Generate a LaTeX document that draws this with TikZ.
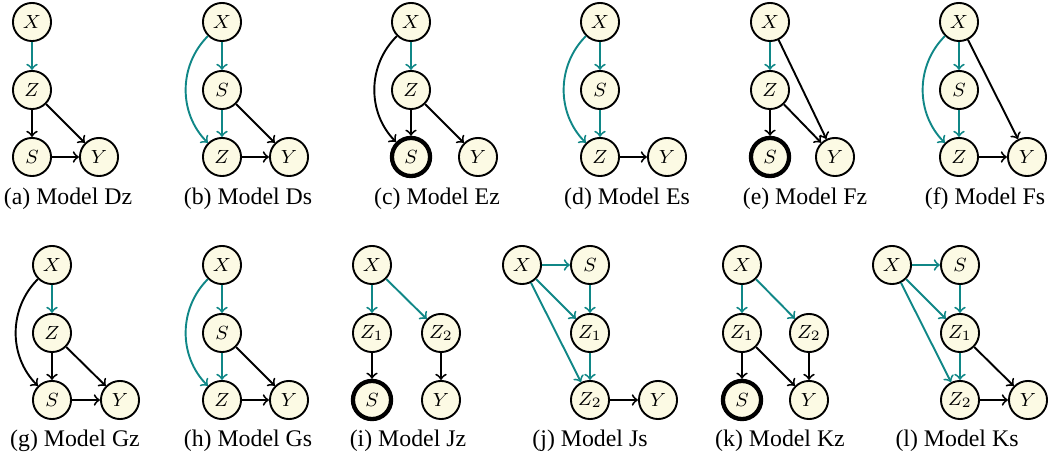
\documentclass[tikz,border=0pt]{standalone}
\usepackage[no-math]{fontspec}
\setmainfont{Liberation Serif}
\usepackage{amsmath}
\definecolor{cream}{RGB}{252,250,228}
\definecolor{tealc}{RGB}{16,135,135}

\begin{document}
\begin{tikzpicture}[x=0.42pt,y=-0.42pt,->,thick]
      \tikzstyle{var}=[shape=circle,draw=black,fill=cream,minimum size=16pt,inner sep=0pt,font=\fontsize{8.5}{9}\selectfont];
      \tikzstyle{sel}=[var,line width=1.8pt];
      \tikzstyle{cau}=[draw=tealc];
      \tikzstyle{captext}=[anchor=base,font=\fontsize{10}{12}\selectfont];

      \useasboundingbox (0,0) rectangle (1049,462);

      % (a)
      \node[var](aX) at (32,22) {$X$};
      \node[var](aZ) at (32,90) {$Z$};
      \node[var](aS) at (32,157) {$S$};
      \node[var](aY) at (99,157) {$Y$};
      \node[captext](aC) at (68,205) {(a) Model Dz};
      \path (aX) edge[cau] (aZ);
      \path (aZ) edge (aS);
      \path (aZ) edge (aY);
      \path (aS) edge (aY);

      % (b)
      \node[var](bX) at (222,22) {$X$};
      \node[var](bS) at (222,90) {$S$};
      \node[var](bZ) at (222,157) {$Z$};
      \node[var](bY) at (289,157) {$Y$};
      \node[captext](bC) at (248,205) {(b) Model Ds};
      \path (bX) edge[cau] (bS);
      \path (bS) edge[cau] (bZ);
      \path (bX) edge[cau,bend right=45] (bZ);
      \path (bS) edge (bY);
      \path (bZ) edge (bY);

      % (c)
      \node[var](cX) at (411,22) {$X$};
      \node[var](cZ) at (411,90) {$Z$};
      \node[sel](cS) at (411,157) {$S$};
      \node[var](cY) at (478,157) {$Y$};
      \node[captext](cC) at (437,205) {(c) Model Ez};
      \path (cX) edge[cau] (cZ);
      \path (cX) edge[bend right=45] (cS);
      \path (cZ) edge (cS);
      \path (cZ) edge (cY);

      % (d)
      \node[var](dX) at (600,22) {$X$};
      \node[var](dS) at (600,90) {$S$};
      \node[var](dZ) at (600,157) {$Z$};
      \node[var](dY) at (667,157) {$Y$};
      \node[captext](dC) at (627,205) {(d) Model Es};
      \path (dX) edge[cau] (dS);
      \path (dS) edge[cau] (dZ);
      \path (dX) edge[cau,bend right=45] (dZ);
      \path (dZ) edge (dY);

      % (e)
      \node[var](eX) at (770,22) {$X$};
      \node[var](eZ) at (770,90) {$Z$};
      \node[sel](eS) at (770,157) {$S$};
      \node[var](eY) at (835,157) {$Y$};
      \node[captext](eC) at (805,205) {(e) Model Fz};
      \path (eX) edge[cau] (eZ);
      \path (eX) edge (eY);
      \path (eZ) edge (eS);
      \path (eZ) edge (eY);

      % (f)
      \node[var](fX) at (959,22) {$X$};
      \node[var](fS) at (959,90) {$S$};
      \node[var](fZ) at (959,157) {$Z$};
      \node[var](fY) at (1027,157) {$Y$};
      \node[captext](fC) at (985,205) {(f) Model Fs};
      \path (fX) edge[cau] (fS);
      \path (fS) edge[cau] (fZ);
      \path (fX) edge[cau,bend right=45] (fZ);
      \path (fX) edge (fY);
      \path (fZ) edge (fY);

      % (g)
      \node[var](gX) at (52,265) {$X$};
      \node[var](gZ) at (52,333) {$Z$};
      \node[var](gS) at (52,400) {$S$};
      \node[var](gY) at (120,400) {$Y$};
      \node[captext](gC) at (75,447) {(g) Model Gz};
      \path (gX) edge[cau] (gZ);
      \path (gX) edge[bend right=45] (gS);
      \path (gZ) edge (gS);
      \path (gZ) edge (gY);
      \path (gS) edge (gY);

      % (h)
      \node[var](hX) at (222,265) {$X$};
      \node[var](hS) at (222,333) {$S$};
      \node[var](hZ) at (222,400) {$Z$};
      \node[var](hY) at (289,400) {$Y$};
      \node[captext](hC) at (248,447) {(h) Model Gs};
      \path (hX) edge[cau] (hS);
      \path (hS) edge[cau] (hZ);
      \path (hX) edge[cau,bend right=45] (hZ);
      \path (hS) edge (hY);
      \path (hZ) edge (hY);

      % (i)
      \node[var](iX) at (372,265) {$X$};
      \node[var](iZa) at (372,333) {$Z_1$};
      \node[var](iZb) at (441,333) {$Z_2$};
      \node[sel](iS) at (372,400) {$S$};
      \node[var](iY) at (441,400) {$Y$};
      \node[captext](iC) at (408,447) {(i) Model Jz};
      \path (iX) edge[cau] (iZa);
      \path (iX) edge[cau] (iZb);
      \path (iZa) edge (iS);
      \path (iZb) edge (iY);

      % (j)
      \node[var](jX) at (522,265) {$X$};
      \node[var](jS) at (590,265) {$S$};
      \node[var](jZa) at (590,333) {$Z_1$};
      \node[var](jZb) at (590,400) {$Z_2$};
      \node[var](jY) at (658,400) {$Y$};
      \node[captext](jC) at (590,447) {(j) Model Js};
      \path (jX) edge[cau] (jS);
      \path (jS) edge[cau] (jZa);
      \path (jX) edge[cau] (jZa);
      \path (jX) edge[cau] (jZb);
      \path (jZa) edge[cau] (jZb);
      \path (jZb) edge (jY);

      % (k)
      \node[var](kX) at (742,265) {$X$};
      \node[var](kZa) at (742,333) {$Z_1$};
      \node[var](kZb) at (809,333) {$Z_2$};
      \node[sel](kS) at (742,400) {$S$};
      \node[var](kY) at (809,400) {$Y$};
      \node[captext](kC) at (780,447) {(k) Model Kz};
      \path (kX) edge[cau] (kZa);
      \path (kX) edge[cau] (kZb);
      \path (kZa) edge (kS);
      \path (kZa) edge (kY);
      \path (kZb) edge (kY);

      % (l)
      \node[var](lX) at (892,265) {$X$};
      \node[var](lS) at (960,265) {$S$};
      \node[var](lZa) at (960,333) {$Z_1$};
      \node[var](lZb) at (960,400) {$Z_2$};
      \node[var](lY) at (1028,400) {$Y$};
      \node[captext](lC) at (957,447) {(l) Model Ks};
      \path (lX) edge[cau] (lS);
      \path (lS) edge[cau] (lZa);
      \path (lX) edge[cau] (lZa);
      \path (lX) edge[cau] (lZb);
      \path (lZa) edge[cau] (lZb);
      \path (lZb) edge (lY);
      \path (lZa) edge (lY);

\end{tikzpicture}
\end{document}
